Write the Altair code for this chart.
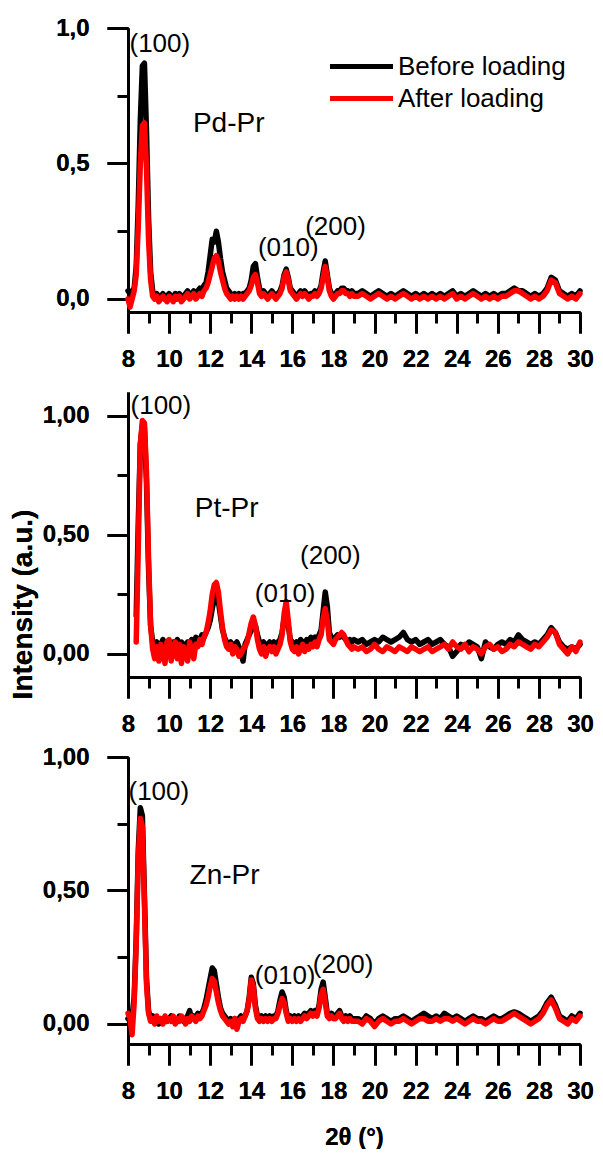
import altair as alt
import pandas as pd

FONT = "Liberation Sans"

# ---------------- sampling grids (2theta, degrees) ----------------
def grid(start, n, step):
    return [round(start + step * i, 1) for i in range(n)]

X_FINE = grid(8.0, 111, 0.1)      # 8.0 ... 19.0
X_FINE_P2 = grid(8.4, 107, 0.1)   # 8.4 ... 19.0
X_COARSE = grid(19.2, 55, 0.2)    # 19.2 ... 30.0

# ---------------- Pd-Pr ----------------
PD_BEFORE_FINE = [
    0.03, 0.02, 0.03, 0.04, 0.12, 0.35, 0.66, 0.86, 0.87, 0.62,
    0.30, 0.10, 0.03, 0.01, 0.02, 0.00, 0.01, 0.02, 0.00, 0.01,
    0.02, 0.01, 0.00, 0.02, 0.01, 0.02, 0.00, 0.01, 0.02, 0.03,
    0.01, 0.02, 0.03, 0.01, 0.03, 0.04, 0.03, 0.05, 0.06, 0.10,
    0.16, 0.22, 0.21, 0.25, 0.21, 0.15, 0.10, 0.07, 0.04, 0.03,
    0.02, 0.01, 0.02, 0.01, 0.02, 0.01, 0.02, 0.02, 0.03, 0.04,
    0.07, 0.12, 0.13, 0.08, 0.04, 0.02, 0.03, 0.02, 0.01, 0.02,
    0.03, 0.02, 0.01, 0.02, 0.03, 0.05, 0.09, 0.11, 0.08, 0.04,
    0.03, 0.02, 0.01, 0.02, 0.03, 0.02, 0.03, 0.02, 0.01, 0.02,
    0.02, 0.03, 0.02, 0.03, 0.05, 0.10, 0.14, 0.09, 0.04, 0.02,
    0.01, 0.02, 0.03, 0.03, 0.04, 0.04, 0.03, 0.03, 0.02, 0.03,
    0.02,
]
PD_BEFORE_COARSE = [
    0.02, 0.03, 0.02, 0.01, 0.02, 0.03, 0.02, 0.01, 0.02, 0.01,
    0.02, 0.03, 0.02, 0.01, 0.02, 0.01, 0.02, 0.01, 0.02, 0.01,
    0.02, 0.01, 0.02, 0.03, 0.01, 0.02, 0.01, 0.02, 0.03, 0.02,
    0.01, 0.02, 0.01, 0.02, 0.01, 0.02, 0.02, 0.03, 0.04, 0.03,
    0.03, 0.02, 0.01, 0.02, 0.01, 0.02, 0.04, 0.08, 0.07, 0.03,
    0.02, 0.01, 0.02, 0.01, 0.03,
]
PD_AFTER_FINE = [
    0.00, -0.03, 0.00, 0.03, 0.09, 0.27, 0.50, 0.64, 0.65, 0.48,
    0.22, 0.07, 0.01, 0.00, 0.01, -0.01, 0.00, 0.01, 0.00, -0.01,
    0.01, 0.00, -0.01, 0.01, 0.00, 0.01, -0.01, 0.00, 0.01, 0.02,
    0.00, 0.01, 0.02, 0.00, 0.01, 0.02, 0.01, 0.03, 0.04, 0.06,
    0.09, 0.12, 0.15, 0.16, 0.14, 0.10, 0.07, 0.04, 0.02, 0.01,
    0.00, 0.01, 0.00, 0.01, 0.00, 0.01, 0.00, 0.01, 0.02, 0.03,
    0.05, 0.08, 0.09, 0.06, 0.02, 0.01, 0.02, 0.01, 0.00, 0.01,
    0.02, 0.01, 0.00, 0.01, 0.02, 0.04, 0.08, 0.10, 0.07, 0.03,
    0.02, 0.01, 0.00, 0.01, 0.02, 0.01, 0.02, 0.01, 0.00, 0.01,
    0.01, 0.02, 0.01, 0.02, 0.04, 0.08, 0.12, 0.08, 0.03, 0.01,
    0.00, 0.01, 0.02, 0.02, 0.03, 0.03, 0.02, 0.02, 0.01, 0.02,
    0.01,
]
PD_AFTER_COARSE = [
    0.01, 0.02, 0.01, 0.00, 0.01, 0.02, 0.01, 0.00, 0.01, 0.00,
    0.01, 0.02, 0.01, 0.00, 0.01, 0.00, 0.01, 0.00, 0.01, 0.00,
    0.01, 0.00, 0.01, 0.02, 0.00, 0.01, 0.00, 0.01, 0.02, 0.01,
    0.00, 0.01, 0.00, 0.01, 0.00, 0.01, 0.01, 0.02, 0.03, 0.03,
    0.02, 0.01, 0.00, 0.01, 0.00, 0.01, 0.03, 0.07, 0.06, 0.02,
    0.01, 0.00, 0.01, 0.00, 0.02,
]

# ---------------- Pt-Pr ----------------
PT_BEFORE_FINE = [
    0.16, 0.55, 0.88, 0.96, 0.95, 0.72,
    0.36, 0.12, 0.05, 0.04, 0.05, 0.03, 0.04, 0.06, 0.03, 0.05,
    0.04, 0.02, 0.05, 0.04, 0.06, 0.03, 0.05, 0.04, 0.02, 0.05,
    0.04, 0.06, 0.05, 0.07, 0.05, 0.06, 0.08, 0.07, 0.09, 0.11,
    0.14, 0.19, 0.23, 0.26, 0.22, 0.16, 0.10, 0.07, 0.05, 0.04,
    0.05, 0.03, 0.04, 0.05, 0.03, 0.01, -0.03, 0.04, 0.06, 0.08,
    0.10, 0.13, 0.12, 0.08, 0.05, 0.04, 0.05, 0.03, 0.04, 0.05,
    0.04, 0.05, 0.04, 0.05, 0.06, 0.09, 0.15, 0.18, 0.12, 0.06,
    0.05, 0.04, 0.05, 0.04, 0.06, 0.05, 0.04, 0.06, 0.05, 0.07,
    0.06, 0.07, 0.06, 0.08, 0.10, 0.18, 0.26, 0.20, 0.09, 0.07,
    0.06, 0.07, 0.08, 0.07, 0.08, 0.07, 0.06, 0.05, 0.06, 0.05,
    0.06,
]
PT_BEFORE_COARSE = [
    0.05, 0.06, 0.04, 0.05, 0.06, 0.05, 0.07, 0.06, 0.05, 0.06,
    0.07, 0.09, 0.06, 0.05, 0.06, 0.04, 0.05, 0.06, 0.04, 0.05,
    0.06, 0.04, 0.03, -0.01, 0.01, 0.04, 0.03, 0.05, 0.04, 0.03,
    -0.02, 0.05, 0.03, 0.02, 0.04, 0.05, 0.04, 0.06, 0.05, 0.08,
    0.06, 0.05, 0.04, 0.05, 0.04, 0.06, 0.08, 0.11, 0.09, 0.05,
    0.03, 0.02, 0.03, 0.02, 0.04,
]
PT_AFTER_FINE = [
    0.05, 0.45, 0.88, 0.98, 0.97, 0.76,
    0.40, 0.12, 0.02, -0.02, 0.03, -0.03, 0.04, 0.00, -0.04, 0.05,
    0.06, -0.03, 0.02, 0.05, -0.02, 0.04, -0.04, 0.03, 0.00, -0.03,
    0.05, 0.01, -0.02, 0.04, 0.03, 0.06, 0.04, 0.07, 0.09, 0.13,
    0.18, 0.25, 0.29, 0.30, 0.26, 0.18, 0.11, 0.06, 0.03, 0.02,
    0.04, 0.00, 0.03, 0.02, -0.01, 0.00, 0.02, 0.03, 0.05, 0.09,
    0.13, 0.155, 0.12, 0.06, 0.02, 0.00, 0.03, -0.01, 0.02, 0.03,
    0.01, 0.03, 0.00, 0.02, 0.04, 0.08, 0.17, 0.22, 0.14, 0.05,
    0.02, 0.01, 0.03, 0.00, 0.02, 0.04, 0.01, 0.03, 0.02, 0.04,
    0.03, 0.05, 0.03, 0.06, 0.08, 0.15, 0.19, 0.14, 0.06, 0.05,
    0.04, 0.06, 0.07, 0.08, 0.09, 0.08, 0.06, 0.04, 0.03, 0.02,
    0.03,
]
PT_AFTER_COARSE = [
    0.02, 0.03, 0.01, 0.02, 0.04, 0.02, 0.01, 0.03, 0.02, 0.01,
    0.03, 0.02, 0.01, 0.03, 0.02, 0.01, 0.02, 0.03, 0.01, 0.02,
    0.03, 0.04, 0.02, 0.05, 0.03, 0.02, 0.04, 0.01, 0.03, 0.02,
    0.00, 0.03, 0.04, 0.02, 0.03, 0.01, 0.02, 0.04, 0.03, 0.05,
    0.04, 0.03, 0.02, 0.04, 0.03, 0.05, 0.07, 0.10, 0.09, 0.04,
    0.02, 0.00, 0.03, 0.01, 0.05,
]

# ---------------- Zn-Pr ----------------
ZN_BEFORE_FINE = [
    0.02, 0.01, 0.03, 0.10, 0.32, 0.65, 0.81, 0.78, 0.48, 0.17,
    0.05, 0.02, 0.03, 0.01, 0.02, 0.00, 0.02, 0.01, 0.02, 0.01,
    0.02, 0.03, 0.01, 0.02, 0.01, 0.03, 0.02, 0.01, 0.02, 0.03,
    0.05, 0.02, 0.03, 0.02, 0.04, 0.03, 0.04, 0.06, 0.09, 0.13,
    0.17, 0.21, 0.20, 0.15, 0.10, 0.06, 0.04, 0.03, 0.02, 0.01,
    0.02, 0.01, 0.02, 0.01, 0.02, 0.03, 0.02, 0.03, 0.05, 0.10,
    0.175, 0.15, 0.07, 0.03, 0.02, 0.03, 0.02, 0.03, 0.02, 0.03,
    0.02, 0.03, 0.03, 0.05, 0.09, 0.12, 0.10, 0.05, 0.02, 0.03,
    0.02, 0.03, 0.02, 0.03, 0.02, 0.03, 0.04, 0.03, 0.04, 0.05,
    0.04, 0.05, 0.04, 0.07, 0.13, 0.157, 0.10, 0.04, 0.03, 0.04,
    0.03, 0.03, 0.04, 0.05, 0.03, 0.02, 0.03, 0.02, 0.03, 0.02,
    0.02,
]
ZN_BEFORE_COARSE = [
    0.02, 0.01, 0.03, 0.02, 0.00, 0.02, 0.03, 0.02, 0.01, 0.02,
    0.02, 0.03, 0.02, 0.01, 0.02, 0.03, 0.04, 0.03, 0.02, 0.03,
    0.02, 0.04, 0.03, 0.02, 0.03, 0.02, 0.01, 0.02, 0.03, 0.02,
    0.02, 0.01, 0.02, 0.03, 0.02, 0.02, 0.03, 0.04, 0.045, 0.04,
    0.03, 0.02, 0.01, 0.02, 0.03, 0.05, 0.08, 0.10, 0.07, 0.03,
    0.02, 0.01, 0.03, 0.02, 0.04,
]
ZN_AFTER_FINE = [
    0.04, 0.02, -0.04, 0.08, 0.30, 0.62, 0.77, 0.74, 0.45, 0.15,
    0.04, 0.01, 0.02, 0.00, 0.03, 0.01, 0.02, 0.00, 0.03, 0.01,
    0.02, 0.01, 0.03, 0.00, 0.02, 0.01, 0.03, 0.02, 0.00, 0.02,
    0.01, 0.03, 0.02, 0.01, 0.03, 0.02, 0.03, 0.05, 0.07, 0.10,
    0.14, 0.17, 0.16, 0.12, 0.08, 0.05, 0.03, 0.02, 0.01, 0.00,
    0.01, -0.01, 0.02, -0.02, 0.01, 0.02, 0.01, 0.03, 0.05, 0.09,
    0.165, 0.14, 0.06, 0.02, 0.01, 0.02, 0.01, 0.02, 0.01, 0.02,
    0.01, 0.02, 0.02, 0.04, 0.07, 0.095, 0.08, 0.04, 0.01, 0.02,
    0.01, 0.02, 0.01, 0.02, 0.01, 0.02, 0.03, 0.02, 0.03, 0.04,
    0.03, 0.04, 0.03, 0.06, 0.11, 0.13, 0.08, 0.03, 0.02, 0.03,
    0.02, 0.02, 0.03, 0.04, 0.02, 0.01, 0.02, 0.01, 0.02, 0.01,
    0.01,
]
ZN_AFTER_COARSE = [
    0.01, 0.00, 0.02, 0.01, -0.01, 0.01, 0.02, 0.01, 0.00, 0.01,
    0.01, 0.02, 0.01, 0.00, 0.01, 0.02, 0.02, 0.01, 0.01, 0.02,
    0.01, 0.02, 0.02, 0.01, 0.02, 0.01, 0.00, 0.01, 0.02, 0.01,
    0.01, 0.00, 0.01, 0.02, 0.01, 0.01, 0.02, 0.03, 0.04, 0.03,
    0.02, 0.01, 0.00, 0.01, 0.02, 0.04, 0.07, 0.09, 0.06, 0.02,
    0.01, 0.00, 0.02, 0.01, 0.03,
]

# ---------------- annotations ----------------
PD_LABELS = ["(100)", "Pd-Pr", "(010)", "(200)"]
PD_LX = [9.55, 12.9, 15.8, 18.1]
PD_LY = [0.94, 0.646, 0.19, 0.266]
PT_LABELS = ["(100)", "Pt-Pr", "(010)", "(200)"]
PT_LX = [9.6, 12.8, 15.65, 17.85]
PT_LY = [1.04, 0.61, 0.25, 0.41]
ZN_LABELS = ["(100)", "Zn-Pr", "(010)", "(200)"]
ZN_LX = [9.5, 12.7, 15.65, 18.47]
ZN_LY = [0.87, 0.555, 0.18, 0.22]
LABEL_SIZES = [26, 28, 26, 26]

SERIES = ["Before loading", "After loading"]
COLORS = ["#000000", "#ff0000"]

X_MAJOR = [8, 10, 12, 14, 16, 18, 20, 22, 24, 26, 28, 30]
X_MINOR = [9, 11, 13, 15, 17, 19, 21, 23, 25, 27, 29]
Y_MAJOR = [0, 0.5, 1.0]
Y_MINOR = [0.25, 0.75]

PLOT_W = 452


def series_df(xf, fine, coarse, name):
    xs = xf + X_COARSE
    ys = fine + coarse
    assert len(xs) == len(ys), (name, len(xs), len(ys))
    return pd.DataFrame({"x": xs, "y": ys, "series": name})


def panel(xf, before_f, before_c, after_f, after_c, labels, lx, ly,
          ydomain, height, ydec, legend, xtitle, ytitle):
    xscale = alt.Scale(domain=[8, 30], nice=False, zero=False)
    yscale = alt.Scale(domain=ydomain, nice=False, zero=False)
    xaxis_kw = dict(values=X_MAJOR, format="d", labelFlush=False,
                    labelOverlap=False, labelPadding=14, tickSize=21, orient="bottom")
    if xtitle:
        xaxis_kw.update(title=xtitle, titleFont=FONT, titleFontSize=24,
                        titleFontWeight="bold", titleY=93, titleBaseline="middle")
    else:
        xaxis_kw.update(title=None)
    fmt = "'." + str(ydec) + "f'"
    yaxis_kw = dict(
        values=Y_MAJOR,
        labelExpr="replace(format(datum.value, " + fmt + "), '.', ',')",
        labelOverlap=False, labelPadding=18, tickSize=21, orient="left",
    )
    if ytitle:
        yaxis_kw.update(title=ytitle, titleFont=FONT, titleFontSize=28,
                        titleFontWeight="bold", titleX=-105, titleY=212,
                        titleAngle=270, titleAlign="center", titleBaseline="middle")
    else:
        yaxis_kw.update(title=None)

    if legend:
        leg = alt.Legend(orient="none", legendX=215, legendY=20, title=None,
                         labelFont=FONT, labelFontSize=26, labelColor="black",
                         labelLimit=400,
                         symbolType="M-2,0H2", symbolSize=992, symbolStrokeWidth=5,
                         labelOffset=18, rowPadding=-1, padding=0)
    else:
        leg = None
    cscale = alt.Scale(domain=SERIES, range=COLORS)

    enc = dict(
        x=alt.X("x:Q", scale=xscale, axis=alt.Axis(**xaxis_kw)),
        y=alt.Y("y:Q", scale=yscale, axis=alt.Axis(**yaxis_kw)),
        color=alt.Color("series:N", scale=cscale, legend=leg),
    )
    b = alt.Chart(series_df(xf, before_f, before_c, SERIES[0])).mark_line(
        strokeWidth=5.5, strokeJoin="round", strokeCap="round").encode(**enc)
    a = alt.Chart(series_df(xf, after_f, after_c, SERIES[1])).mark_line(
        strokeWidth=5.5, strokeJoin="round", strokeCap="round").encode(**enc)
    tdf = pd.DataFrame({"label": labels, "x": lx, "y": ly, "fs": LABEL_SIZES})
    # text layer also carries the minor-tick axes (short ticks, no labels)
    t = alt.Chart(tdf).mark_text(font=FONT, color="black", align="center",
                                 baseline="middle").encode(
        x=alt.X("x:Q", scale=xscale,
                axis=alt.Axis(values=X_MINOR, tickSize=11, labels=False, domain=False,
                              title=None, orient="bottom")),
        y=alt.Y("y:Q", scale=yscale,
                axis=alt.Axis(values=Y_MINOR, tickSize=11, labels=False, domain=False,
                              title=None, orient="left")),
        text="label:N",
        size=alt.Size("fs:Q", scale=None),
    )
    return alt.layer(b, a, t).resolve_axis(x="independent", y="independent").properties(
        width=PLOT_W, height=height)


p1 = panel(X_FINE, PD_BEFORE_FINE, PD_BEFORE_COARSE, PD_AFTER_FINE, PD_AFTER_COARSE,
           PD_LABELS, PD_LX, PD_LY, [-0.048, 1.0], 284, 1, True, None, None)
p2 = panel(X_FINE_P2, PT_BEFORE_FINE, PT_BEFORE_COARSE, PT_AFTER_FINE, PT_AFTER_COARSE,
           PT_LABELS, PT_LX, PT_LY, [-0.097, 1.1], 285, 2, False, None, "Intensity (a.u.)")
p3 = panel(X_FINE, ZN_BEFORE_FINE, ZN_BEFORE_COARSE, ZN_AFTER_FINE, ZN_AFTER_COARSE,
           ZN_LABELS, ZN_LX, ZN_LY, [-0.075, 1.0], 287, 2, False, "2θ (°)", None)

chart = alt.vconcat(p1, p2, p3, spacing=80, bounds="flush").resolve_scale(
    y="independent", color="independent"
).properties(
    padding={"left": 1, "top": 8, "right": 0, "bottom": 0}
).configure_view(stroke=None).configure_axis(
    domainColor="black", domainWidth=3, tickColor="black", tickWidth=3,
    labelFont=FONT, labelFontSize=24, labelFontWeight="bold", labelColor="black",
    grid=False,
)

chart.save("out.html", embed_options={"renderer": "svg", "actions": False})
